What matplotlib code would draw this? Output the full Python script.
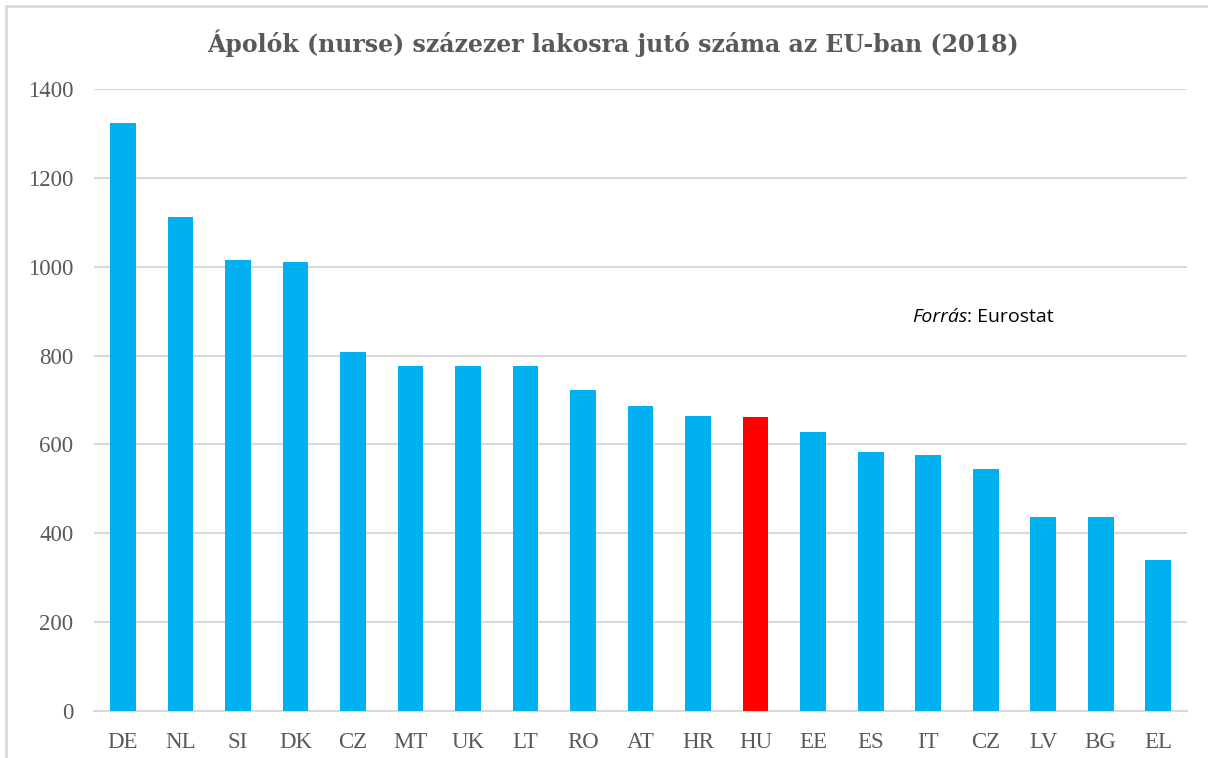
import numpy as np
import matplotlib
matplotlib.use('Agg')
import matplotlib.pyplot as plt
from matplotlib.patches import Rectangle

# adatok (Eurostat, 2018)
orszagok = ['DE', 'NL', 'SI', 'DK', 'CZ', 'MT', 'UK', 'LT', 'RO', 'AT',
            'HR', 'HU', 'EE', 'ES', 'IT', 'CZ', 'LV', 'BG', 'EL']
ertekek = [1323, 1112, 1014, 1010, 808, 777, 776, 777, 723, 687,
           665, 662, 629, 584, 576, 545, 437, 437, 339]
kiemelt = 'HU'

kek = '#00B0F0'
piros = '#FF0000'
szurke = '#595959'

fig = plt.figure(figsize=(12.08, 7.58), dpi=100)
ax = fig.add_axes([0.078, 0.062, 0.9045, 0.8206])

x = np.arange(len(orszagok))
szinek = [piros if o == kiemelt else kek for o in orszagok]
ax.bar(x, ertekek, width=0.45, color=szinek, zorder=3)

ax.set_xlim(-0.5, len(orszagok) - 0.5)
ax.set_ylim(0, 1400)
ax.set_yticks(range(0, 1401, 200))
ax.set_xticks(x)
ax.set_xticklabels(orszagok)
ax.grid(axis='y', color='#d9d9d9', lw=1.5, zorder=0)
for s in ['top', 'right', 'left']:
    ax.spines[s].set_visible(False)
ax.spines['bottom'].set_color('#d9d9d9')
ax.spines['bottom'].set_linewidth(1.5)
ax.tick_params(length=0, labelsize=16.5, labelcolor=szurke)
ax.tick_params(axis='y', pad=15)
ax.tick_params(axis='x', pad=15)
for t in ax.get_xticklabels() + ax.get_yticklabels():
    t.set_fontfamily('Liberation Serif')

fig.text(0.507, 0.943, 'Ápolók (nurse) százezer lakosra jutó száma az EU-ban (2018)',
         ha='center', va='center', fontsize=17, fontweight='bold',
         family='DejaVu Serif', color=szurke)

# forrás
t1 = fig.text(0.755, 0.582, 'Forrás', ha='left', va='center', fontsize=14,
              style='italic', family='Open Sans', color='black')
fig.add_artist(plt.Annotation(': Eurostat', xy=(1, 0), xycoords=t1,
                              ha='left', va='bottom', fontsize=14,
                              family='Open Sans', color='black'))

# keret
fig.patches.append(Rectangle((0.005, -0.01), 1.1, 1.002, transform=fig.transFigure,
                             fill=False, ec='#d9d9d9', lw=2))

fig.savefig('out.png', dpi=100)
